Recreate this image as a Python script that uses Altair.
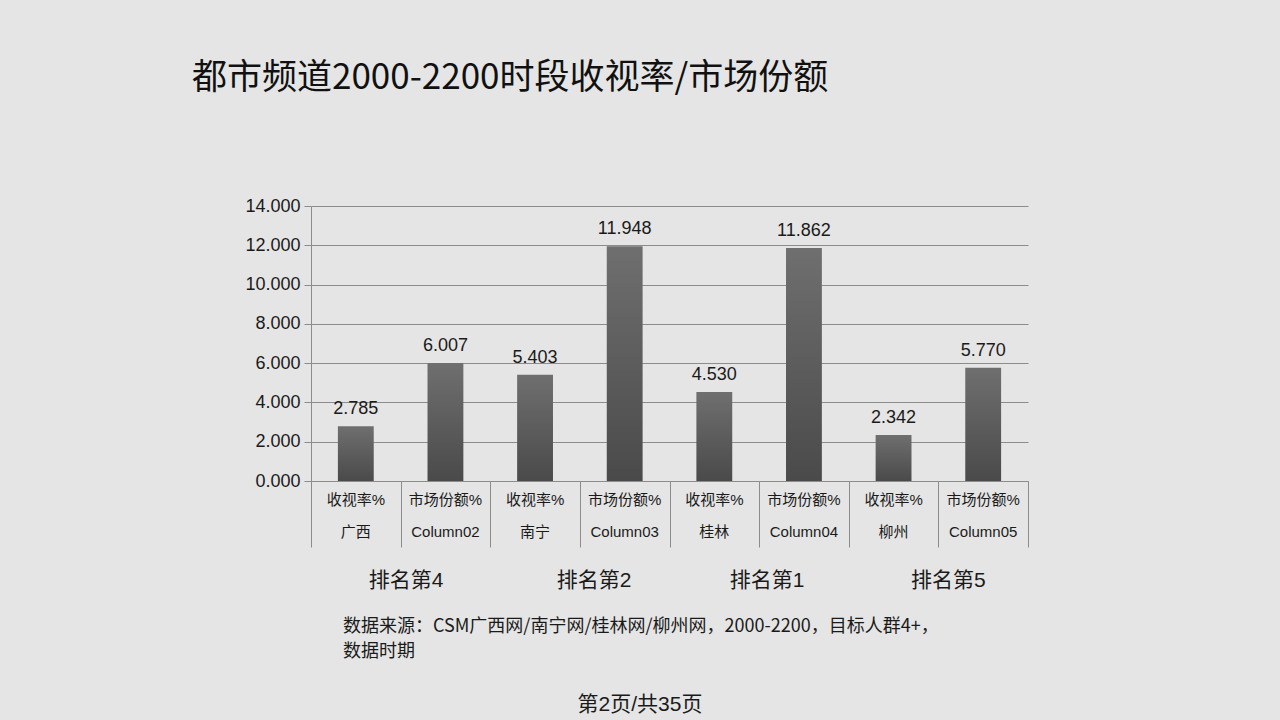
import altair as alt
import pandas as pd

# ---- data ----
metrics = ["收视率%", "市场份额%", "收视率%", "市场份额%", "收视率%", "市场份额%", "收视率%", "市场份额%"]
groups = ["广西", "Column02", "南宁", "Column03", "桂林", "Column04", "柳州", "Column05"]
values = [2.785, 6.007, 5.403, 11.948, 4.530, 11.862, 2.342, 5.770]
rank_labels = ["排名第4", "排名第2", "排名第1", "排名第5"]
rank_pos = [1.06, 3.16, 5.09, 7.11]
y_ticks = [0, 2, 4, 6, 8, 10, 12, 14]
x_bounds = [0, 1, 2, 3, 4, 5, 6, 7, 8]

title_text = "都市频道2000-2200时段收视率/市场份额"
source_line1 = "数据来源：CSM广西网/南宁网/桂林网/柳州网，2000-2200，目标人群4+，"
source_line2 = "数据时期"
footer_text = "第2页/共35页"

# ---- styling ----
BG = "#e5e5e5"
GRID = "#8c8c8c"
TXT = "#1a1a1a"
LATIN = "Liberation Sans, Noto Sans CJK SC, sans-serif"
CJK = "Noto Sans CJK SC, sans-serif"

W, H = 717, 275

df = pd.DataFrame({
    "idx": list(range(len(values))),
    "metric": metrics,
    "group": groups,
    "value": values,
})
df_rank = pd.DataFrame({"label": rank_labels, "pos": rank_pos})

xscale = alt.Scale(domain=[0, 8], nice=False, zero=False)
yscale = alt.Scale(domain=[0, 14], nice=False)

xaxis = alt.Axis(values=x_bounds, labels=False, title=None,
                 tickSize=66, tickColor=GRID, domainColor=GRID,
                 grid=False, tickWidth=1, domainWidth=1)
yaxis = alt.Axis(values=y_ticks, format=".3f", title=None,
                 labelFontSize=18, labelFont=LATIN, labelColor=TXT,
                 labelOverlap=False, labelFlush=False,
                 tickSize=7, tickColor=GRID, domainColor=GRID,
                 gridColor=GRID, gridWidth=1, labelPadding=4)

base = alt.Chart(df).transform_calculate(
    pos="datum.idx + 0.5", x0="datum.idx + 0.3", x1="datum.idx + 0.7"
)

grad = alt.Gradient(
    gradient="linear",
    stops=[alt.GradientStop(color="#6f6f6f", offset=0),
           alt.GradientStop(color="#4a4a4a", offset=1)],
    x1=0, x2=0, y1=0, y2=1,
)

bars = base.mark_bar(color=grad).encode(
    x=alt.X("x0:Q", scale=xscale, axis=xaxis),
    x2="x1:Q",
    y=alt.Y("value:Q", scale=yscale, axis=yaxis),
    y2=alt.datum(0),
)

val_labels = base.mark_text(font=LATIN, fontSize=18, color=TXT,
                            baseline="alphabetic", dy=-12).encode(
    x=alt.X("pos:Q", scale=xscale, axis=xaxis),
    y=alt.Y("value:Q", scale=yscale, axis=yaxis),
    text=alt.Text("value:Q", format=".3f"),
)

cat1 = base.mark_text(font=LATIN, fontSize=15, color=TXT, baseline="middle").encode(
    x=alt.X("pos:Q", scale=xscale, axis=xaxis), y=alt.value(294), text="metric:N")
cat2 = base.mark_text(font=LATIN, fontSize=15, color=TXT, baseline="middle").encode(
    x=alt.X("pos:Q", scale=xscale, axis=xaxis), y=alt.value(326), text="group:N")

ranks = alt.Chart(df_rank).mark_text(font=LATIN, fontSize=21, color=TXT,
                                     baseline="middle").encode(
    x=alt.X("pos:Q", scale=xscale, axis=xaxis), y=alt.value(375), text="label:N")

ann = pd.DataFrame({"t": [0]})
title = alt.Chart(ann).mark_text(font=CJK, fontSize=35, color="#111111", align="left",
                                 baseline="middle", text=title_text).encode(
    x=alt.value(-119), y=alt.value(-128))
src1 = alt.Chart(ann).mark_text(font=CJK, fontSize=18, color=TXT, align="left",
                                baseline="middle", text=source_line1).encode(
    x=alt.value(32), y=alt.value(421))
src2 = alt.Chart(ann).mark_text(font=CJK, fontSize=18, color=TXT, align="left",
                                baseline="middle", text=source_line2).encode(
    x=alt.value(32), y=alt.value(446))
footer = alt.Chart(ann).mark_text(font=LATIN, fontSize=21, color=TXT, align="center",
                                  baseline="middle", text=footer_text).encode(
    x=alt.value(329), y=alt.value(499))

chart = alt.layer(bars, val_labels, cat1, cat2, ranks, title, src1, src2, footer).properties(
    width=W, height=H,
    autosize=alt.AutoSizeParams(type="none"),
    padding={"left": 311, "top": 206, "right": 1280 - 311 - W, "bottom": 720 - 206 - H},
    background=BG,
).configure_view(stroke=None)

chart.save("out.html", embed_options={"renderer": "svg", "actions": False})
